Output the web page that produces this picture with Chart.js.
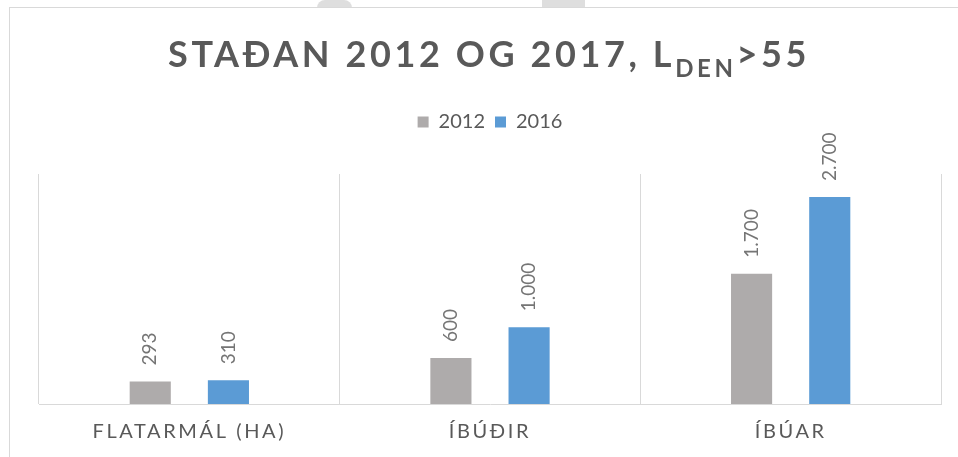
<!DOCTYPE html>
<html>
<head>
<meta charset="utf-8">
<script src="https://cdn.jsdelivr.net/npm/chart.js@4.4.1/dist/chart.umd.min.js"></script>
<style>
  html, body { margin: 0; padding: 0; background: #fff; overflow: hidden; width: 958px; height: 457px; }
  .wm { position: absolute; background: #dedede; z-index: 0; }
  #box { position: absolute; left: 9px; top: 7px; width: 962px; height: 462px; border: 1px solid #d9d9d9; background: #fff; z-index: 1; }
</style>
</head>
<body>
<div class="wm" style="left:317px; top:0; width:35px; height:8px; border-radius:18px 18px 0 0;"></div>
<div class="wm" style="left:542px; top:0; width:43px; height:8px;"></div>
<div id="box"><canvas id="chart" width="960" height="460"></canvas></div>
<script>
// data
const categories = ["FLATARMÁL (HA)", "ÍBÚÐIR", "ÍBÚAR"];
const values2012 = [293, 600, 1700];
const values2016 = [310, 1000, 2700];
const seriesNames = ["2012", "2016"];

const titleMain = "STAÐAN 2012 OG 2017, L";
const titleSub = "DEN";
const titleTail = ">55";

const fmt = (v) => String(v).replace(/\B(?=(\d{3})+(?!\d))/g, ".");

// title with subscript, drawn into the space left by layout padding
const titlePlugin = {
	id: "subTitle",
	afterDraw(chart) {
		const ctx = chart.ctx;
		ctx.save();
		ctx.fillStyle = "#595959";
		ctx.textBaseline = "alphabetic";
		ctx.textAlign = "left";
		ctx.letterSpacing = "3.6px";
		const big = "bold 36px Lato";
		const small = "bold 24px Lato";
		ctx.font = big;
		const w1 = ctx.measureText(titleMain).width;
		const w3 = ctx.measureText(titleTail).width;
		ctx.font = small;
		const w2 = ctx.measureText(titleSub).width;
		let x = chart.width / 2 - 1 - (w1 + w2 + w3) / 2;
		const base = 59;
		ctx.font = big;
		ctx.fillText(titleMain, x, base);
		x += w1;
		ctx.font = small;
		ctx.fillText(titleSub, x, base + 10);
		x += w2;
		ctx.font = big;
		ctx.fillText(titleTail, x, base);
		ctx.restore();
	},
};

// rotated value labels above each bar
const valueLabels = {
	id: "valueLabels",
	afterDatasetsDraw(chart) {
		const ctx = chart.ctx;
		ctx.save();
		ctx.font = "19px Lato";
		ctx.fillStyle = "#757575";
		ctx.textAlign = "left";
		ctx.textBaseline = "middle";
		chart.data.datasets.forEach((ds, i) => {
			chart.getDatasetMeta(i).data.forEach((bar, j) => {
				ctx.save();
				ctx.translate(bar.x, bar.y - 16);
				ctx.rotate(-Math.PI / 2);
				ctx.fillText(fmt(ds.data[j]), 0, 0);
				ctx.restore();
			});
		});
		ctx.restore();
	},
};

// spaced-out category labels
const spacedTicks = {
	id: "spacedTicks",
	afterUpdate(chart) {
		const sx = chart.scales.x;
		if (sx && !sx._spaced) {
			const orig = sx.drawLabels;
			sx.drawLabels = function (area) {
				this.ctx.save();
				this.ctx.letterSpacing = "2.6px";
				orig.call(this, area);
				this.ctx.restore();
			};
			sx._spaced = true;
		}
	},
};

new Chart(document.getElementById("chart").getContext("2d"), {
	type: "bar",
	data: {
		labels: categories,
		datasets: [
			{ label: seriesNames[0], data: values2012, backgroundColor: "#aeabab" },
			{ label: seriesNames[1], data: values2016, backgroundColor: "#5b9bd5" },
		],
	},
	options: {
		responsive: false,
		animation: false,
		layout: { padding: { top: 94, left: 29, right: 29, bottom: 8 } },
		datasets: { bar: { categoryPercentage: 0.52, barPercentage: 0.526 } },
		scales: {
			x: {
				grid: { color: "#d9d9d9", drawTicks: false, offset: true },
				border: { color: "#d9d9d9" },
				ticks: { color: "#595959", font: { family: "Lato", size: 20 }, padding: 16 },
			},
			y: { display: false, min: 0, max: 3000 },
		},
		plugins: {
			legend: {
				labels: {
					boxWidth: 11,
					boxHeight: 11,
					padding: 10,
					color: "#595959",
					font: { family: "Lato", size: 20 },
				},
			},
			subtitle: { display: true, text: " ", weight: 500, font: { size: 10 }, padding: { top: 10, bottom: 10 } },
			tooltip: { enabled: false },
		},
	},
	plugins: [titlePlugin, valueLabels, spacedTicks],
});
</script>
</body>
</html>
